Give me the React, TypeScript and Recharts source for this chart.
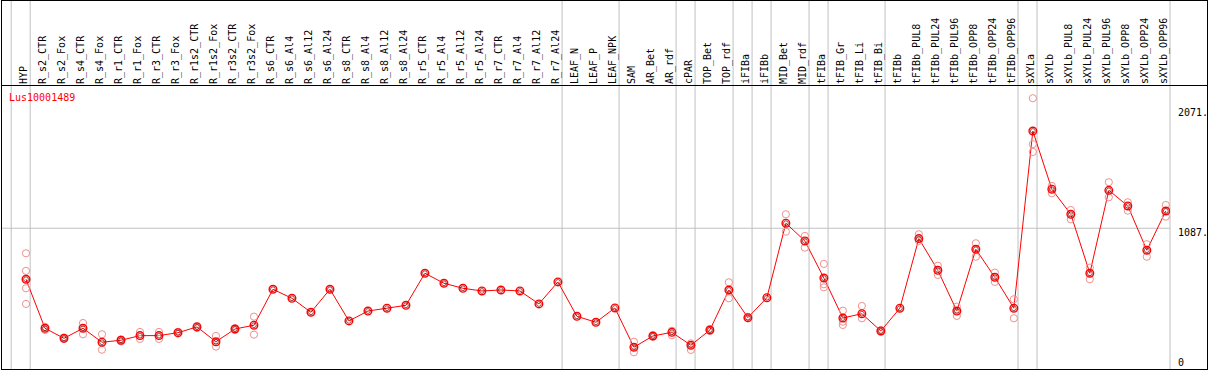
import React from 'react';
import { ComposedChart, Line, Scatter, XAxis, YAxis, ReferenceLine } from 'recharts';

const title = 'Lus10001489';

const categories = [
  'HYP', 'R_s2_CTR', 'R_s2_Fox', 'R_s4_CTR', 'R_s4_Fox', 'R_r1_CTR', 'R_r1_Fox', 'R_r3_CTR', 'R_r3_Fox',
  'R_r1s2_CTR', 'R_r1s2_Fox', 'R_r3s2_CTR', 'R_r3s2_Fox', 'R_s6_CTR', 'R_s6_Al4', 'R_s6_Al12', 'R_s6_Al24',
  'R_s8_CTR', 'R_s8_Al4', 'R_s8_Al12', 'R_s8_Al24', 'R_r5_CTR', 'R_r5_Al4', 'R_r5_Al12', 'R_r5_Al24',
  'R_r7_CTR', 'R_r7_Al4', 'R_r7_Al12', 'R_r7_Al24', 'LEAF_N', 'LEAF_P', 'LEAF_NPK', 'SAM', 'AR_Bet', 'AR_rdf',
  'cPAR', 'TOP_Bet', 'TOP_rdf', 'iFIBa', 'iFIBb', 'MID_Bet', 'MID_rdf', 'tFIBa', 'tFIB_Gr', 'tFIB_Li', 'tFIB_Bi',
  'tFIBb', 'tFIBb_PUL8', 'tFIBb_PUL24', 'tFIBb_PUL96', 'tFIBb_OPP8', 'tFIBb_OPP24', 'tFIBb_OPP96', 'sXYLa',
  'sXYLb', 'sXYLb_PUL8', 'sXYLb_PUL24', 'sXYLb_PUL96', 'sXYLb_OPP8', 'sXYLb_OPP24', 'sXYLb_OPP96',
];

const means = [
  670, 269, 187, 269, 155, 171, 209, 209, 233, 280, 159, 263, 294, 588, 514, 400, 588,
  329, 410, 433, 457, 719, 637, 596, 574, 582, 574, 468, 648, 367, 318, 435, 114, 206, 236,
  130, 255, 582, 356, 519, 1128, 983, 680, 353, 388, 247, 433, 1002, 743, 410, 915, 686, 433,
  1882, 1406, 1201, 719, 1397, 1269, 907, 1228,
];

const rep1: (number | null)[] = [
  882, 280, 192, 312, 220, 178, 239, 239, 240, 288, 206, 270, 364, null, null, null, null,
  null, null, null, null, null, null, null, null, null, null, null, null, null, null, null, 159, 212, 249,
  146, 262, 645, 362, null, 1201, 1024, 795, 413, 451, 253, null, 1038, 781, 446, 964, 724, 506,
  2150, 1433, 1236, 765, 1463, 1299, 956, 1277,
];

const rep2: (number | null)[] = [
  738, 255, 182, 220, 94, 162, 182, 182, 226, 272, 119, 256, 217, null, null, null, null,
  null, null, null, null, null, null, null, null, null, null, null, null, null, null, null, 73, 200, 212,
  92, 248, 514, 350, null, 1059, 928, 629, 323, 351, 241, null, 983, 705, 370, 854, 648, 351,
  1774, 1373, 1160, 670, 1340, 1231, 854, 1182,
];

const rep3: (number | null)[] = [
  596, null, null, null, null, null, null, null, null, null, null, null, null, null, null, null, null,
  null, null, null, null, null, null, null, null, null, null, null, null, null, null, null, null, null, null,
  null, null, null, null, null, null, null, 604, 296, null, null, null, null, null, null, null, null, null,
  1711, null, null, null, null, null, null, null,
];

const rep4: (number | null)[] = [
  468, null, null, null, null, null, null, null, null, null, null, null, null, null, null, null, null,
  null, null, null, null, null, null, null, null, null, null, null, null, null, null, null, null, null, null,
  null, null, null, null, null, null, null, null, null, null, null, null, null, null, null, null, null, null,
  null, null, null, null, null, null, null, null,
];

// index of the last category of each group (-1 = boundary before the first)
const groupEnds = [-1, 0, 28, 31, 34, 35, 37, 38, 39, 41, 42, 45, 52, 53, 60];

const yTicks = [0, 1087, 2071];
const yTickLabels = ['0', '1087.', '2071.'];

const rows = categories.map((name, i) => ({ idx: i, name, mean: means[i] }));
const repPoints = [rep1, rep2, rep3, rep4].flatMap((arr) =>
  arr
    .map((v, i) => (v == null ? null : { idx: i, value: v }))
    .filter((p): p is { idx: number; value: number } => p !== null)
);

const FONT = 'DejaVu Sans Mono';
const GRID = '#c0c0c0';

const HeaderTick = (props: any) => {
  const { x, payload } = props;
  return (
    <text
      transform={`translate(${x + 1}, 84) rotate(-90)`}
      fontSize={10}
      fontFamily={FONT}
      textAnchor="start"
      fill="#000"
    >
      {categories[payload.value]}
    </text>
  );
};

const RightTick = (props: any) => {
  const { x, y, payload } = props;
  const k = yTicks.indexOf(payload.value);
  return (
    <text x={x} y={Math.min(y + 7.7, 365.5)} fontSize={10} fontFamily={FONT} textAnchor="start" fill="#000">
      {yTickLabels[k]}
    </text>
  );
};

const MeanDot = (props: any) => {
  const { cx, cy, index } = props;
  if (cx == null || cy == null) return <g key={index} />;
  return (
    <g key={index}>
      <circle cx={cx} cy={cy} r={3.8} fill="none" stroke="#ff0000" strokeWidth={1.4} />
      <circle cx={cx} cy={cy} r={2.4} fill="none" stroke="#700000" strokeWidth={0.7} />
    </g>
  );
};

const RepShape = (props: any) => {
  const { cx, cy } = props;
  return <circle cx={cx} cy={cy} r={3.6} fill="none" stroke="#ee9090" strokeWidth={1} />;
};

const SepShape = (props: any) => {
  const { x1, x2, y1, y2 } = props;
  const bottom = Math.max(y1, y2);
  return <line x1={x1} x2={x2} y1={0} y2={bottom} stroke={GRID} strokeWidth={1} />;
};

export default function App() {
  return (
    <div style={{ position: 'absolute', left: 0, top: 0, width: 1209, height: 370, background: '#fff' }}>
      <ComposedChart
        width={1209}
        height={370}
        data={rows}
        margin={{ top: 0, right: 0, bottom: 1, left: 2 }}
      >
        <XAxis
          dataKey="idx"
          type="number"
          orientation="top"
          height={85}
          domain={[-1.2632, 60.22]}
          allowDataOverflow
          ticks={categories.map((_, i) => i)}
          interval={0}
          tick={HeaderTick}
          axisLine={false}
          tickLine={false}
        />
        <YAxis
          type="number"
          orientation="right"
          width={39}
          domain={[-64, 2258]}
          allowDataOverflow
          ticks={yTicks}
          interval={0}
          tick={RightTick}
          axisLine={false}
          tickLine={false}
        />
        <ReferenceLine y={1087} stroke={GRID} strokeWidth={1} ifOverflow="visible" />
        {groupEnds.map((g) => (
          <ReferenceLine key={g} x={g + 0.22} ifOverflow="visible" shape={SepShape} />
        ))}
        <Scatter data={repPoints} dataKey="value" shape={RepShape} isAnimationActive={false} />
        <Line
          dataKey="mean"
          stroke="#ff0000"
          strokeWidth={1}
          dot={MeanDot}
          activeDot={false}
          isAnimationActive={false}
        />
      </ComposedChart>
      <svg
        width={1209}
        height={370}
        style={{ position: 'absolute', left: 0, top: 0, pointerEvents: 'none' }}
      >
        <rect x={1.5} y={0.5} width={1206} height={369} fill="none" stroke="#000" strokeWidth={1} />
        <line x1={1.5} x2={1207.5} y1={85.5} y2={85.5} stroke="#000" strokeWidth={1} />
        <text x={9} y={100.5} fontSize={10} fontFamily={FONT} fill="#ff0000">
          {title}
        </text>
      </svg>
    </div>
  );
}
